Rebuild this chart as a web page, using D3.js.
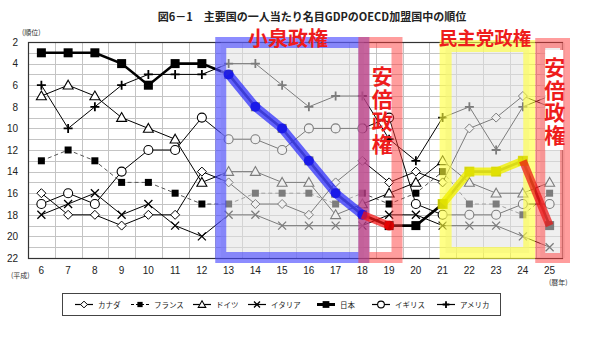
<!DOCTYPE html>
<html>
<head>
<meta charset="utf-8">
<script src="https://cdn.jsdelivr.net/npm/d3@7"></script>
<style>
  html, body { margin: 0; padding: 0; background: #fff; }
  svg { display: block; font-family: "Noto Sans CJK JP", "Noto Sans", sans-serif; }
</style>
</head>
<body>
<svg id="chart" width="599" height="342"></svg>
<script>
// 平成6年〜25年
const years = [6, 7, 8, 9, 10, 11, 12, 13, 14, 15, 16, 17, 18, 19, 20, 21, 22, 23, 24, 25];
const yTicks = [2, 4, 6, 8, 10, 12, 14, 16, 18, 20, 22];

// OECD加盟国中の順位
const canada  = [16, 18, 18, 19, 18, 18, 14, 15, 17, 17, 18, 15, 13, 15, 14, 15, 10, 9, 7, 8];
const france  = [13, 12, 13, 15, 15, 16, 17, 17, 16, 16, 16, 17, 16, 17, 16, 14, 17, 17, 18, 16];
const germany = [7, 6, 7, 9, 10, 11, 15, 14, 14, 15, 15, 18, 17, 16, 15, 13, 15, 16, 16, 15];
const italy   = [18, 17, 16, 18, 17, 19, 20, 18, 18, 19, 19, 19, 19, 18, 18, 19, 19, 19, 20, 21];
const japan   = [3, 3, 3, 4, 6, 4, 4, 5, 8, 10, 13, 16, 18, 19, 19, 17, 14, 14, 13, 19];
const uk      = [17, 16, 17, 14, 12, 12, 9, 11, 11, 12, 10, 10, 10, 9, 17, 18, 18, 18, 17, 17];
const usa     = [6, 10, 8, 6, 5, 5, 5, 4, 4, 6, 8, 7, 7, 11, 13, 9, 8, 12, 8, 7];

const seriesNames = ["カナダ", "フランス", "ドイツ", "イタリア", "日本", "イギリス", "アメリカ"];

// 政権期間（年）
const koizumi = [13, 18];
const abe1 = [18, 19];
const dpj = [21, 24];
const abe2 = [24, 25];

const svg = d3.select("#chart");
const plotL = 28, plotR = 563, plotT = 42, plotB = 258;

const x = d3.scaleBand().domain(years).range([plotL, plotR]).paddingInner(0).paddingOuter(0);
const bw = x.bandwidth();
const cx = d => x(d) + bw / 2;
const y = d3.scaleLinear().domain([2, 22]).range([plotT, plotB]);

// 表題
svg.append("text")
  .attr("x", 312).attr("y", 21)
  .attr("text-anchor", "middle")
  .attr("font-size", 11).attr("font-weight", "bold").attr("fill", "#222")
  .text("図6－1　主要国の一人当たり名目GDPのOECD加盟国中の順位");

// 格子
const grid = svg.append("g").attr("stroke", "#c4c4c4").attr("stroke-width", 1);
d3.range(2, 23).forEach(r => {
  grid.append("line").attr("x1", plotL).attr("x2", plotR)
    .attr("y1", Math.round(y(r)) + 0.5).attr("y2", Math.round(y(r)) + 0.5);
});
years.slice(1).forEach(yr => {
  grid.append("line").attr("y1", plotT).attr("y2", plotB)
    .attr("x1", Math.round(x(yr)) + 0.5).attr("x2", Math.round(x(yr)) + 0.5);
});

// 縦軸
const yAxis = svg.append("g")
  .attr("transform", `translate(${plotL},0)`)
  .call(d3.axisLeft(y).tickValues(yTicks).tickSize(0).tickPadding(10));
yAxis.select(".domain").remove();
yAxis.selectAll("text").attr("font-size", 10).attr("fill", "#222")
  .attr("font-family", "Arial, 'Liberation Sans', sans-serif");

// 横軸
const xAxis = svg.append("g")
  .attr("transform", `translate(0,${plotB})`)
  .call(d3.axisBottom(x).tickSize(0).tickPadding(9));
xAxis.select(".domain").remove();
xAxis.selectAll("text").attr("font-size", 10).attr("fill", "#222")
  .attr("font-family", "Arial, 'Liberation Sans', sans-serif");

svg.append("text").attr("x", 22).attr("y", 35).attr("font-size", 7).attr("fill", "#333").text("(順位)");
svg.append("text").attr("x", 11).attr("y", 278).attr("font-size", 7).attr("fill", "#333").text("(平成)");
svg.append("text").attr("x", 549).attr("y", 285).attr("font-size", 7).attr("fill", "#333").text("(暦年)");

// 系列の描画
const line = d3.line().x((d, i) => cx(years[i])).y(d => y(d));
const plot = svg.append("g");

function drawMarker(g, type, px, py, scale = 1) {
  const s = scale;
  if (type === "diamond") {
    g.append("path").attr("d", `M${px},${py - 4.5 * s}L${px + 4.5 * s},${py}L${px},${py + 4.5 * s}L${px - 4.5 * s},${py}Z`)
      .attr("fill", "#fff").attr("stroke", "#000").attr("stroke-width", 1);
  } else if (type === "square") {
    g.append("rect").attr("x", px - 3.5 * s).attr("y", py - 3.5 * s).attr("width", 7 * s).attr("height", 7 * s).attr("fill", "#000");
  } else if (type === "bigsquare") {
    g.append("rect").attr("x", px - 4.5 * s).attr("y", py - 4.5 * s).attr("width", 9 * s).attr("height", 9 * s).attr("fill", "#000");
  } else if (type === "triangle") {
    g.append("path").attr("d", `M${px},${py - 5 * s}L${px + 5 * s},${py + 3.8 * s}L${px - 5 * s},${py + 3.8 * s}Z`)
      .attr("fill", "#fff").attr("stroke", "#000").attr("stroke-width", 1.1);
  } else if (type === "x") {
    g.append("path").attr("d", `M${px - 4 * s},${py - 4 * s}L${px + 4 * s},${py + 4 * s}M${px + 4 * s},${py - 4 * s}L${px - 4 * s},${py + 4 * s}`)
      .attr("stroke", "#000").attr("stroke-width", 1.3).attr("fill", "none");
  } else if (type === "circle") {
    g.append("circle").attr("cx", px).attr("cy", py).attr("r", 4.5 * s)
      .attr("fill", "#fff").attr("stroke", "#000").attr("stroke-width", 1.1);
  } else if (type === "plus") {
    g.append("path").attr("d", `M${px - 4.5 * s},${py}L${px + 4.5 * s},${py}M${px},${py - 4.5 * s}L${px},${py + 4.5 * s}`)
      .attr("stroke", "#000").attr("stroke-width", 1.8).attr("fill", "none");
  }
}

const series = [
  { name: seriesNames[0], values: canada,  marker: "diamond",   width: 1,   dash: null },
  { name: seriesNames[1], values: france,  marker: "square",    width: 1,   dash: "4,3" },
  { name: seriesNames[2], values: germany, marker: "triangle",  width: 1,   dash: null },
  { name: seriesNames[3], values: italy,   marker: "x",         width: 1,   dash: null },
  { name: seriesNames[5], values: uk,      marker: "circle",    width: 1,   dash: null },
  { name: seriesNames[6], values: usa,     marker: "plus",      width: 1,   dash: null },
  { name: seriesNames[4], values: japan,   marker: "bigsquare", width: 2.6, dash: null }
];

series.forEach(s => {
  plot.append("path").datum(s.values).attr("d", line)
    .attr("fill", "none")
    .attr("stroke", s.dash ? "#555" : "#000")
    .attr("stroke-width", s.width)
    .attr("stroke-dasharray", s.dash);
});
series.forEach(s => {
  const g = plot.append("g");
  s.values.forEach((v, i) => drawMarker(g, s.marker, cx(years[i]), y(v)));
});

// 枠線
svg.append("rect").attr("x", plotL + 0.5).attr("y", plotT + 0.5)
  .attr("width", plotR - plotL - 1).attr("height", plotB - plotT)
  .attr("fill", "none").attr("stroke", "#333").attr("stroke-width", 1.2);

// 政権期間の囲み
const overlay = svg.append("g");
function frame(x0, x1, y0, y1, sw, color, fill) {
  overlay.append("rect")
    .attr("x", x0 + sw / 2).attr("y", y0 + sw / 2)
    .attr("width", x1 - x0 - sw).attr("height", y1 - y0 - sw)
    .attr("fill", fill).attr("stroke", color).attr("stroke-width", sw);
}
const haze = "rgba(225,225,225,0.55)";
frame(x(koizumi[0]), cx(koizumi[1]) + 7, y(2) - 5, y(22) + 5, 11, "rgba(70,70,255,0.62)", haze);
frame(cx(dpj[0]) - 3, x(abe2[1]) - 1, y(2) - 2, y(22) + 1, 12, "rgba(255,255,60,0.62)", haze);
frame(cx(abe1[0]) - 4, x(abe1[1]) + bw, y(2) - 5, y(22) + 5, 11, "rgba(255,60,60,0.5)", "none");
frame(x(abe2[1]) - 1, x(abe2[1]) + bw + 7, y(2) - 4, y(22) + 5, 10, "rgba(255,60,60,0.5)", haze);

// 日本の推移の強調
const hl = svg.append("g");
function highlight(range, color, width, dotColor, dotShape) {
  const idx = years.map((yr, i) => i).filter(i => years[i] >= range[0] && years[i] <= range[1]);
  const pts = idx.map(i => [cx(years[i]), y(japan[i])]);
  hl.append("path").attr("d", d3.line()(pts))
    .attr("fill", "none").attr("stroke", color).attr("stroke-width", width)
    .attr("stroke-linejoin", "round").attr("stroke-linecap", "butt");
  if (dotColor) {
    pts.forEach(p => {
      if (dotShape === "circle") {
        hl.append("circle").attr("cx", p[0]).attr("cy", p[1]).attr("r", 5).attr("fill", dotColor);
      } else {
        hl.append("rect").attr("x", p[0] - 5).attr("y", p[1] - 5).attr("width", 10).attr("height", 10).attr("fill", dotColor);
      }
    });
  }
}
highlight(koizumi, "rgba(30,30,255,0.68)", 9, "rgba(20,20,235,0.85)", "circle");
highlight(abe1, "rgba(245,20,20,0.72)", 8, null);
hl.append("circle").attr("cx", cx(abe1[1])).attr("cy", y(japan[years.indexOf(abe1[1])])).attr("r", 5).attr("fill", "rgba(235,0,0,0.85)");
highlight(dpj, "rgba(240,240,0,0.8)", 8, "rgba(225,225,0,0.85)", "square");
highlight(abe2, "rgba(235,20,20,0.72)", 8, null);

// 政権名
const red = "#ee1c1c";
svg.append("text").attr("x", 288).attr("y", 46).attr("text-anchor", "middle")
  .attr("font-size", 20).attr("font-weight", "bold").attr("fill", red).text("小泉政権");
svg.append("text").attr("x", 485).attr("y", 45).attr("text-anchor", "middle")
  .attr("font-size", 18.5).attr("font-weight", "bold").attr("fill", red).text("民主党政権");

// 2期目ラベルの背景
svg.append("rect").attr("x", x(abe2[1]) + 9).attr("y", y(2) + 8).attr("width", 18).attr("height", 100).attr("fill", "#fff");

// 縦書きの政権名
function verticalText(text, px, py, size) {
  svg.append("text")
    .attr("x", px).attr("y", py)
    .attr("writing-mode", "vertical-rl")
    .style("writing-mode", "vertical-rl")
    .style("text-orientation", "upright")
    .attr("letter-spacing", 1.5)
    .attr("font-size", size).attr("font-weight", "bold")
    .attr("fill", red).text(text);
}
verticalText("安倍政権", cx(abe1[1]) - 7, 66, 21);
verticalText("安倍政権", cx(abe2[1]) + 5, 57, 21);

// 凡例
const lg = svg.append("g");
lg.append("rect").attr("x", 62.5).attr("y", 293.5).attr("width", 438).attr("height", 22)
  .attr("fill", "#fff").attr("stroke", "#444").attr("stroke-width", 1);
const legendItems = [
  { s: series[0], x0: 75 },
  { s: series[1], x0: 131 },
  { s: series[2], x0: 193 },
  { s: series[3], x0: 248 },
  { s: series[6], x0: 317 },
  { s: series[4], x0: 372 },
  { s: series[5], x0: 437 }
];
legendItems.forEach(it => {
  const ly = 304.5;
  lg.append("line").attr("x1", it.x0).attr("x2", it.x0 + 18).attr("y1", ly).attr("y2", ly)
    .attr("stroke", "#000").attr("stroke-width", it.s.width > 2 ? 3 : 1.2)
    .attr("stroke-dasharray", it.s.dash ? "3,2" : null);
  drawMarker(lg, it.s.marker, it.x0 + 9, ly, 0.75);
  lg.append("text").attr("x", it.x0 + 23).attr("y", ly + 3).attr("font-size", 7.5).attr("fill", "#222").text(it.s.name);
});
</script>
</body>
</html>
